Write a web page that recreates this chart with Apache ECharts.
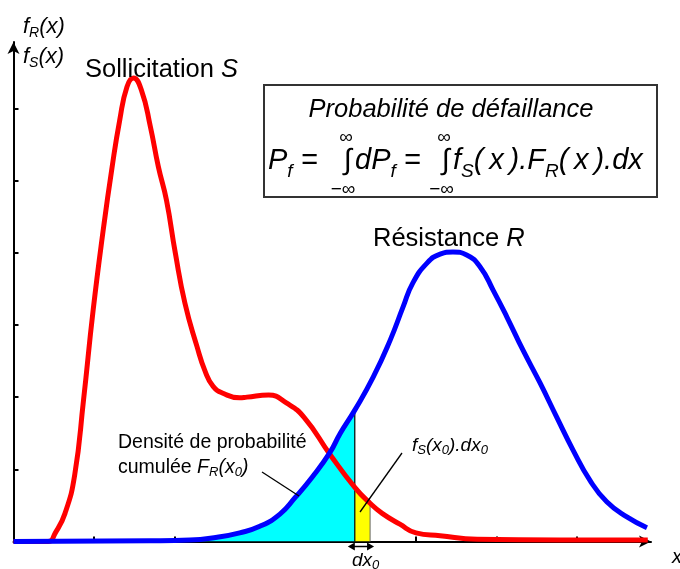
<!DOCTYPE html>
<html><head><meta charset="utf-8">
<script src="https://cdn.jsdelivr.net/npm/echarts@6/dist/echarts.min.js"></script>
<style>html,body{margin:0;padding:0;background:#fff}#c{width:680px;height:569px}</style>
</head><body><div id="c"></div>
<script>
// Sollicitation S (red)
const sX = [0, 0.43, 0.52, 0.64, 0.76, 0.87, 0.99, 1.12, 1.22, 1.32, 1.41, 1.49, 1.59, 1.70, 1.80, 1.90, 2.01, 2.13, 2.28, 2.38, 2.48, 2.61, 2.81, 2.90, 3.17, 3.39, 3.61, 3.93, 4.24, 4.43, 4.58, 4.80, 5.00, 5.30, 5.76, 6.79, 7.88];
const sY = [0, 0, 0.12, 0.39, 0.92, 1.96, 3.21, 4.36, 5.15, 5.84, 6.30, 6.42, 6.25, 5.75, 5.19, 4.73, 4.00, 3.30, 2.70, 2.36, 2.15, 2.05, 1.99, 2.00, 2.03, 1.92, 1.72, 1.21, 0.75, 0.53, 0.39, 0.24, 0.12, 0.08, 0.03, 0.02, 0.02];
// Résistance R (blue)
const rX = [0, 1.70, 2.19, 2.53, 2.81, 3.06, 3.31, 3.50, 3.71, 3.93, 4.06, 4.24, 4.47, 4.68, 4.84, 4.96, 5.14, 5.30, 5.46, 5.63, 5.80, 5.96, 6.13, 6.33, 6.54, 6.75, 6.95, 7.16, 7.37, 7.62, 7.87];
const rY = [0, 0.01, 0.02, 0.06, 0.12, 0.21, 0.38, 0.61, 0.89, 1.23, 1.50, 1.82, 2.28, 2.79, 3.25, 3.58, 3.86, 3.98, 4.01, 3.97, 3.80, 3.48, 3.11, 2.65, 2.20, 1.72, 1.27, 0.85, 0.55, 0.34, 0.19];
const x0 = 4.24, dx0 = 0.19;
const xTicks = [1, 2, 3, 4, 5, 6, 7];
const yTicks = [1, 2, 3, 4, 5, 6];

const zip = (a, b) => a.map((v, i) => [v, b[i]]);
const sData = zip(sX, sY), rData = zip(rX, rY);
const eps = 1e-9;
const cyanData = rData.filter(p => p[0] <= x0 + eps);
const yellowData = sData.filter(p => p[0] >= x0 - eps && p[0] <= x0 + dx0 + eps);
const rAtX0 = cyanData[cyanData.length - 1][1];
const sAtX1 = yellowData[yellowData.length - 1][1];

const FF = '"Liberation Sans", Arial, sans-serif';
function richSet(F, f, d) {
  return {
    m: {fontSize: F, fontFamily: FF, fontStyle: 'normal', lineHeight: F, verticalAlign: 'top', fill: '#000'},
    i: {fontSize: F, fontFamily: FF, fontStyle: 'italic', lineHeight: F, verticalAlign: 'top', fill: '#000'},
    s: {fontSize: f, fontFamily: FF, fontStyle: 'italic', lineHeight: F + 2 * d, verticalAlign: 'middle', fill: '#000'}
  };
}
function txt(text, x, B, F, f, d, align) {
  return {type: 'text', x: x, y: B - 0.8 * F, z: 10,
    style: {text: text, rich: richSet(F, f, d), align: align || 'left', verticalAlign: 'top', fill: '#000',
      font: 'normal ' + F + 'px ' + FF}};
}
function plain(text, x, y, F) {
  return {type: 'text', x: x, y: y, z: 10,
    style: {text: text, align: 'center', verticalAlign: 'middle', fill: '#000', font: F + 'px ' + FF}};
}
function seg(x1, y1, x2, y2, w) {
  return {type: 'line', z: 10, shape: {x1, y1, x2, y2}, style: {stroke: '#000', lineWidth: w || 1.3}};
}

const chart = echarts.init(document.getElementById('c'), null, {renderer: 'canvas'});
const axisCommon = {
  type: 'value', min: 0, interval: 1,
  axisLine: {show: true, symbol: ['none', 'arrow'], symbolSize: [9, 12], lineStyle: {color: '#000', width: 2}},
  axisLabel: {show: false}, splitLine: {show: false}
};
const SM = 0.5;
chart.setOption({
  animation: false,
  backgroundColor: '#ffffff',
  grid: {left: 13.5, right: 29, top: 42, bottom: 27.5, containLabel: false},
  xAxis: Object.assign({}, axisCommon, {max: 7.92,
    axisTick: {show: true, inside: true, length: 5, customValues: xTicks, lineStyle: {color: '#000', width: 2}}}),
  yAxis: Object.assign({}, axisCommon, {max: 6.92,
    axisTick: {show: true, inside: true, length: 5, customValues: yTicks, lineStyle: {color: '#000', width: 2}}}),
  series: [
    {type: 'line', data: cyanData, smooth: SM, symbol: 'none', z: 1,
      lineStyle: {width: 0}, areaStyle: {color: '#00ffff', opacity: 1}},
    {type: 'line', data: yellowData, smooth: SM, symbol: 'none', z: 1,
      lineStyle: {width: 0}, areaStyle: {color: '#ffff00', opacity: 1}},
    {type: 'line', data: [[x0, 0], [x0, rAtX0]], symbol: 'none', z: 3, lineStyle: {color: '#000', width: 1.2}},
    {type: 'line', data: [[x0 + dx0, 0], [x0 + dx0, sAtX1]], symbol: 'none', z: 3, lineStyle: {color: '#666', width: 1}},
    {type: 'line', name: 'S', data: sData, smooth: SM, symbol: 'none', z: 4,
      lineStyle: {color: '#ff0000', width: 5}},
    {type: 'line', name: 'R', data: rData, smooth: SM, symbol: 'none', z: 5,
      lineStyle: {color: '#0000ff', width: 5}}
  ]
});

const pA = chart.convertToPixel({xAxisIndex: 0, yAxisIndex: 0}, [x0, 0]);
const pB = chart.convertToPixel({xAxisIndex: 0, yAxisIndex: 0}, [x0 + dx0, 0]);
const ay = pA[1] + 5;
const l = pA[0] - 7, r = pB[0] + 4;
const TS = '\u2009';

chart.setOption({
  graphic: [
    {type: 'rect', z: 9, shape: {x: 264, y: 85, width: 393, height: 112}, style: {fill: '#fff', stroke: '#333', lineWidth: 2}},
    txt('{i|f}{s|R}{i|(x)}', 23, 33, 22, 14, 7),
    txt('{i|f}{s|S}{i|(x)}', 23, 63, 22, 14, 7),
    txt('{m|Sollicitation }{i|S}', 85, 77, 25.5, 16, 5),
    txt('{m|Résistance }{i|R}', 373, 246, 25.5, 16, 5),
    txt('{i|Probabilité de défaillance}', 451, 117, 25.5, 16, 5, 'center'),
    txt('{i|P}{s|f}{i| =}', 268, 170, 29, 19, 10),
    txt('{i|∫}', 344, 170, 29, 19, 10),
    txt('{i|dP}{s|f}{i| =}', 355, 170, 29, 19, 10),
    txt('{i|∫}', 442, 170, 29, 19, 10),
    txt('{i|f}{s|S}{i|(' + TS + 'x' + TS + ').F}{s|R}{i|(' + TS + 'x' + TS + ').dx}', 453, 170, 29, 19, 10),
    plain('∞', 346, 137.5, 19),
    plain('∞', 444, 137.5, 19),
    plain('−∞', 343, 189.5, 19),
    plain('−∞', 441.5, 189.5, 19),
    txt('{m|Densité de probabilité}', 118, 448, 19.5, 13, 5),
    txt('{m|cumulée }{i|F}{s|R}{i|(x}{s|0}{i|)}', 118, 473, 19.5, 13, 5),
    txt('{i|f}{s|S}{i|(x}{s|0}{i|).dx}{s|0}', 412, 451, 19, 13, 5),
    txt('{i|dx}{s|0}', 352, 566, 19, 13, 5),
    txt('{i|x}', 672, 563, 20, 13, 5),
    seg(262, 472, 299, 496),
    seg(402, 453, 360, 512),
    seg(l + 5, ay, r - 5, ay, 1.5),
    {type: 'polygon', z: 10, shape: {points: [[l, ay], [l + 7, ay - 4], [l + 7, ay + 4]]}, style: {fill: '#000'}},
    {type: 'polygon', z: 10, shape: {points: [[r, ay], [r - 7, ay - 4], [r - 7, ay + 4]]}, style: {fill: '#000'}}
  ]
});
</script>
</body></html>
